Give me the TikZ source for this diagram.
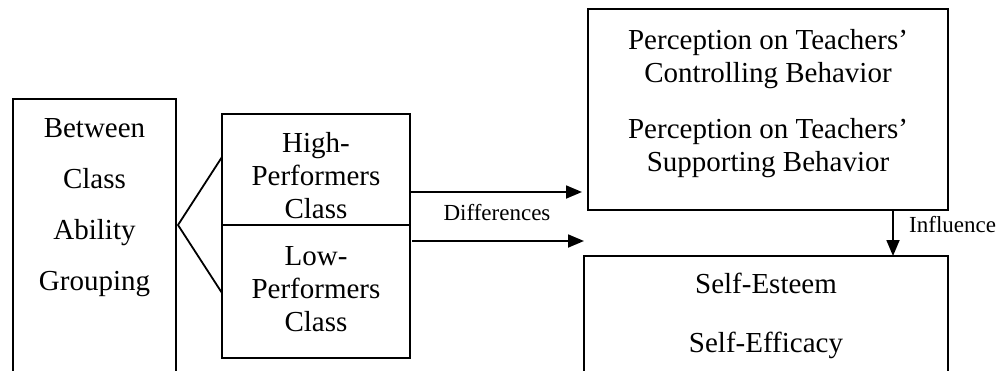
\documentclass[tikz,border=0pt]{standalone}
\usepackage{fontspec}
\setmainfont{Liberation Serif}
\usetikzlibrary{arrows.meta}
\begin{document}
\begin{tikzpicture}[x=1pt,y=-1pt,
  box/.style={draw,line width=1.8pt,rectangle,inner sep=0pt,outer sep=0pt,anchor=north west},
  txt/.style={font=\fontsize{29}{33}\selectfont,anchor=base,inner sep=0pt},
  lbl/.style={font=\fontsize{23}{27}\selectfont,anchor=base,inner sep=0pt},
  conn/.style={line width=1.8pt},
  arr/.style={line width=1.8pt,-{Triangle[length=16pt,width=13pt]}}]
\useasboundingbox (0,0) rectangle (1005,370);
\clip (0,0) rectangle (1005,370);
% boxes
\node[box,minimum width=163pt,minimum height=320pt] (abil) at (13,99) {};
\node[box,minimum width=188pt,minimum height=111pt] (high) at (222,114) {};
\node[box,minimum width=188pt,minimum height=133pt] (low) at (222,225) {};
\node[box,minimum width=360pt,minimum height=201pt] (perc) at (588,9) {};
\node[box,minimum width=364pt,minimum height=200pt] (self) at (584,256) {};
% left box text
\node[txt] (t1) at (94.5,137) {Between};
\node[txt] (t2) at (94.5,188) {Class};
\node[txt] (t3) at (94.5,239) {Ability};
\node[txt] (t4) at (94.5,290) {Grouping};
% middle boxes text
\node[txt] (h1) at (316,152) {High-};
\node[txt] (h2) at (316,185) {Performers};
\node[txt] (h3) at (316,218) {Class};
\node[txt] (l1) at (316,265) {Low-};
\node[txt] (l2) at (316,298) {Performers};
\node[txt] (l3) at (316,331) {Class};
% top right text
\node[txt] (p1) at (768,49) {Perception on Teachers’};
\node[txt] (p2) at (768,82) {Controlling Behavior};
\node[txt] (p3) at (768,138) {Perception on Teachers’};
\node[txt] (p4) at (768,171) {Supporting Behavior};
% bottom right text
\node[txt] (s1) at (766,293) {Self-Esteem};
\node[txt] (s2) at (766,352) {Self-Efficacy};
% labels
\node[lbl] (diff) at (497,220) {Differences};
\node[lbl,anchor=base west] (infl) at (909,232) {Influence};
% fork
\coordinate (fork) at (178,225);
\coordinate (hiJoin) at (222,157);
\coordinate (loJoin) at (222,293);
\draw[conn] (hiJoin) -- (fork) -- (loJoin);
% arrows
\coordinate (d1s) at (410,192);
\coordinate (d2s) at (412,241);
\draw[arr,shorten >=6pt] (d1s) -- (perc.west |- d1s);
\draw[arr] (d2s) -- (self.west |- d2s);
\coordinate (inf) at (893,0);
\draw[arr] (perc.south -| inf) -- (self.north -| inf);
\end{tikzpicture}
\end{document}
